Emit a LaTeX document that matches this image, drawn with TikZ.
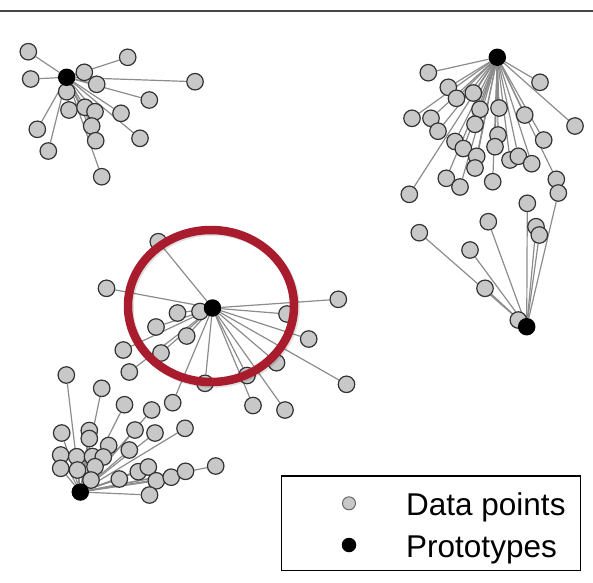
\documentclass[tikz,border=0pt]{standalone}
\usepackage{fontspec}
\setmainfont{Liberation Sans}
\pgfdeclarelayer{background}
\pgfdeclarelayer{front}
\pgfdeclarelayer{ring}
\pgfsetlayers{background,main,front,ring}
\definecolor{ringred}{RGB}{168,28,46}
\definecolor{ptfill}{RGB}{200,200,200}
\definecolor{linkgray}{RGB}{140,140,140}
\begin{document}
\begin{tikzpicture}[x=1pt,y=-1pt,
  datapt/.style={circle,draw=black!80,fill=ptfill,line width=1.2pt,minimum size=16.5pt,inner sep=0pt},
  proto/.style={circle,fill=black,minimum size=17.5pt,inner sep=0pt},
  link/.style={draw=linkgray,line width=1.2pt},
  legdata/.style={circle,draw=black!60,fill=ptfill,line width=1pt,minimum size=13pt,inner sep=0pt},
  legproto/.style={circle,fill=black,minimum size=14.5pt,inner sep=0pt},
  legtext/.style={anchor=base west,inner sep=0pt,font=\fontsize{31.5}{36}\selectfont}]
\useasboundingbox (0,0) rectangle (593,582);

% rule across the top
\draw[line width=2.6pt,black!72] (0,11) -- (593,11);

% prototypes
\begin{pgfonlayer}{front}
\node[proto] (pa) at (66.7,77.3) {};
\node[proto] (pb) at (497.3,57.3) {};
\node[proto] (pc) at (526.7,326.7) {};
\node[proto] (pd) at (212.5,308) {};
\node[proto] (pe) at (80.3,492) {};
\end{pgfonlayer}

% cluster around pa
\foreach \x/\y [count=\i] in {28.3/51.7,30.7/79,127.7/57.3,84.3/72.3,96.7/84.3,195/81.7,66.7/91.7,149.3/100,69/110,85/107.3,95/111.7,121/113.3,37.3/129.3,91.7/126,140/138.3,48.3/151,95.7/140.7,101.7/176.7}{
  \node[datapt] (a\i) at (\x,\y) {};
  \begin{pgfonlayer}{background}\draw[link] (pa) -- (a\i);\end{pgfonlayer}
}

% cluster around pb
\foreach \x/\y [count=\i] in {428.3/72.7,540/82.3,448.3/87.3,456.5/98.3,473.3/93,412/118.3,431/118.3,480/109.3,499/108,524.7/115,575/126,438/131.2,475/124.3,498/135,543.7/140,455/141.5,463.3/148.5,495/146.7,476.7/156.3,510/160,518.3/156.3,531.7/163.7,475/168,446.3/178.3,460/187,492.7/181.7,556.3/179.3,409.3/194.3}{
  \node[datapt] (b\i) at (\x,\y) {};
  \begin{pgfonlayer}{background}\draw[link] (pb) -- (b\i);\end{pgfonlayer}
}

% cluster around pc
\foreach \x/\y [count=\i] in {527.3/203.3,558.3/193,488.3/221.7,419.3/232.7,536/226.7,539.3/235,470/250,485/288.3,518.3/320}{
  \node[datapt] (c\i) at (\x,\y) {};
  \begin{pgfonlayer}{background}\draw[link] (pc) -- (c\i);\end{pgfonlayer}
}

% cluster around pd
\foreach \x/\y [count=\i] in {158.3/241.7,106.5/288.3,338.3/299.3,177.5/313,200/311.5,287/314,156/327,186.7/336,308.7/339,123.3/350,161/353,129.3/372,276.5/362.7,205/383.3,247/375.5,346.5/384.3,172.7/402.7,253/405.5,285/410}{
  \node[datapt] (d\i) at (\x,\y) {};
  \begin{pgfonlayer}{background}\draw[link] (pd) -- (d\i);\end{pgfonlayer}
}

% cluster around pe
\foreach \x/\y [count=\i] in {66.3/375,101.7/388.3,124.5/404.7,151.7/410,61.7/433,89.3/430.5,89.3/438.5,135/430,155/433,185/428.3,108.7/445.5,129.3/450,60.7/455,76.7/456.7,92.5/456.5,103.3/457,60.7/468.3,77.5/470,95/466.7,91/480,119.3/479,138.3/471.7,148.3/467,156.3/480.8,171.2/477.2,185.5/471.3,215.7/466,149.5/495}{
  \node[datapt] (e\i) at (\x,\y) {};
  \begin{pgfonlayer}{background}\draw[link] (pe) -- (e\i);\end{pgfonlayer}
}

% highlight ring
\begin{pgfonlayer}{ring}
\draw[line width=8.5pt,black,opacity=0.12] (212.5,307.5) ellipse [x radius=83, y radius=76];
\draw[line width=8.5pt,ringred] (211,306) ellipse [x radius=83, y radius=76];
\end{pgfonlayer}

% legend
\draw[line width=1.3pt,black] (281.7,476) rectangle (580.7,570.7);
\node[legdata] (ld) at (349,503.3) {};
\node[legproto] (lp) at (349,545) {};
\node[legtext] (tl1) at (406,515) {Data points};
\node[legtext] (tl2) at (406,557) {Prototypes};
\end{tikzpicture}
\end{document}
